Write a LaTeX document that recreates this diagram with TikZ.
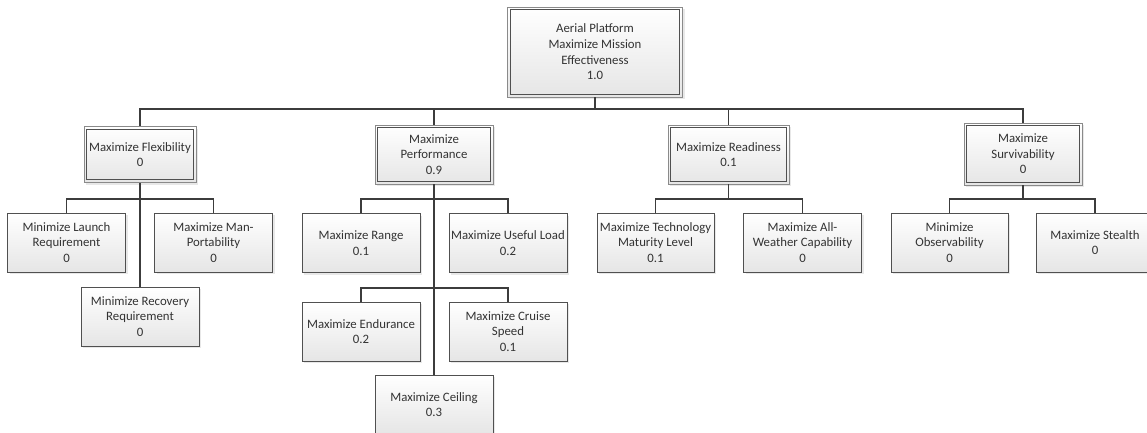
\documentclass[tikz,border=0pt]{standalone}
\usepackage{fontspec}
\setmainfont{Carlito}
\usetikzlibrary{shadows}
\definecolor{boxline}{HTML}{505050}
\definecolor{outerline}{HTML}{8A8A8A}
\definecolor{wire}{HTML}{3C3C3C}
\definecolor{ink}{HTML}{333333}
\tikzset{
  goalbox/.style={draw=boxline, line width=0.9pt, top color=white, bottom color=black!10,
    drop shadow={shadow xshift=2pt, shadow yshift=-2pt, opacity=0.15, fill=black!60},
    text=ink, align=center, inner sep=0pt,
    font=\fontsize{12.8}{15.6}\selectfont,
    minimum width=118pt, minimum height=59pt},
  mainbox/.style={goalbox, draw=outerline, line width=0.8pt},
  innerframe/.style={draw=boxline, line width=1pt},
  wireline/.style={draw=wire, line width=1.4pt}
}
\begin{document}
\begin{tikzpicture}[x=1pt, y=-1pt]
\useasboundingbox (0,0) rectangle (1147,433);
\clip (0,0) rectangle (1147,433);

% bus levels
\coordinate (bus0) at (0,109);
\coordinate (bus1) at (0,199);
\coordinate (bus2) at (0,288);

% root and first level
\node[mainbox, minimum width=175pt, minimum height=90pt] (top) at (595,52)
  {Aerial Platform\\Maximize Mission\\Effectiveness\\1.0};
\node[mainbox, minimum width=112pt, minimum height=56pt] (flex) at (140,154.5)
  {Maximize Flexibility\\0};
\node[mainbox, minimum height=59pt] (perf) at (434,154.5)
  {Maximize\\Performance\\0.9};
\node[mainbox, minimum width=121pt, minimum height=59pt] (ready) at (728.5,154.5)
  {Maximize Readiness\\0.1};
\node[mainbox, minimum height=62pt] (surv) at (1023,154)
  {Maximize\\Survivability\\0};

\foreach \n in {top,flex,perf,ready,surv}
  \draw[innerframe] ([xshift=3.2pt,yshift=-3.2pt]\n.north west) rectangle ([xshift=-3.2pt,yshift=3.2pt]\n.south east);

% second level
\node[goalbox] (launch) at (66.5,242.5) {Minimize Launch\\Requirement\\0};
\node[goalbox] (man) at (213.5,242.5) {Maximize Man-\\Portability\\0};
\node[goalbox] (rec) at (140,316.5) {Minimize Recovery\\Requirement\\0};

\node[goalbox] (range) at (361,243) {Maximize Range\\0.1};
\node[goalbox] (useful) at (508,243) {Maximize Useful Load\\0.2};
\node[goalbox] (endur) at (361,331.5) {Maximize Endurance\\0.2};
\node[goalbox] (cruise) at (508,331.5) {Maximize Cruise\\Speed\\0.1};
\node[goalbox] (ceil) at (434,404.5) {Maximize Ceiling\\0.3};

\node[goalbox, minimum width=117pt] (tech) at (655.5,242.5) {Maximize Technology\\Maturity Level\\0.1};
\node[goalbox] (allw) at (802.5,242.5) {Maximize All-\\Weather Capability\\0};

\node[goalbox, minimum width=117pt] (obs) at (949.5,242.5) {Minimize\\Observability\\0};
\node[goalbox] (stealth) at (1095,242.5) {Maximize Stealth\\0};

% connectors from the root
\draw[wireline] (top.south) -- (top.south |- bus0);
\foreach \c in {flex,perf,ready,surv}
  \draw[wireline] (top.south |- bus0) -| (\c.north);

% flexibility branch
\draw[wireline] (flex.south) -- (rec.north);
\draw[wireline] (flex.south |- bus1) -| (launch.north);
\draw[wireline] (flex.south |- bus1) -| (man.north);

% performance branch
\draw[wireline] (perf.south) -- (ceil.north);
\draw[wireline] (perf.south |- bus1) -| (range.north);
\draw[wireline] (perf.south |- bus1) -| (useful.north);
\draw[wireline] (perf.south |- bus2) -| (endur.north);
\draw[wireline] (perf.south |- bus2) -| (cruise.north);

% readiness branch
\draw[wireline] (ready.south) -- (ready.south |- bus1);
\draw[wireline] (ready.south |- bus1) -| (tech.north);
\draw[wireline] (ready.south |- bus1) -| (allw.north);

% survivability branch
\draw[wireline] (surv.south) -- (surv.south |- bus1);
\draw[wireline] (surv.south |- bus1) -| (obs.north);
\draw[wireline] (surv.south |- bus1) -| (stealth.north);
\end{tikzpicture}
\end{document}
